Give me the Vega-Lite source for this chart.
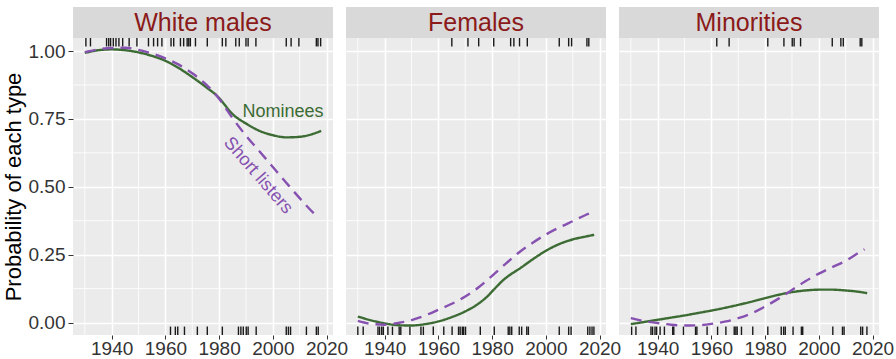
{
  "$schema": "https://vega.github.io/schema/vega-lite/v6.json",
  "padding": {"left": 2, "top": 7, "right": 0, "bottom": 0},
  "bounds": "flush",
  "columns": 3,
  "spacing": {"row": 0, "column": 13},
  "datasets": {
    "curves": [
      {"panel": "White males", "type": "Nominees", "year": 1930, "p": 0.993},
      {"panel": "White males", "type": "Nominees", "year": 1935, "p": 1.003},
      {"panel": "White males", "type": "Nominees", "year": 1940, "p": 1.006},
      {"panel": "White males", "type": "Nominees", "year": 1945, "p": 1.003},
      {"panel": "White males", "type": "Nominees", "year": 1950, "p": 0.995},
      {"panel": "White males", "type": "Nominees", "year": 1955, "p": 0.982},
      {"panel": "White males", "type": "Nominees", "year": 1960, "p": 0.964},
      {"panel": "White males", "type": "Nominees", "year": 1965, "p": 0.937},
      {"panel": "White males", "type": "Nominees", "year": 1970, "p": 0.904},
      {"panel": "White males", "type": "Nominees", "year": 1975, "p": 0.868},
      {"panel": "White males", "type": "Nominees", "year": 1980, "p": 0.827},
      {"panel": "White males", "type": "Nominees", "year": 1982, "p": 0.803},
      {"panel": "White males", "type": "Nominees", "year": 1984, "p": 0.778},
      {"panel": "White males", "type": "Nominees", "year": 1986, "p": 0.759},
      {"panel": "White males", "type": "Nominees", "year": 1988, "p": 0.745},
      {"panel": "White males", "type": "Nominees", "year": 1990, "p": 0.733},
      {"panel": "White males", "type": "Nominees", "year": 1995, "p": 0.706},
      {"panel": "White males", "type": "Nominees", "year": 2000, "p": 0.69},
      {"panel": "White males", "type": "Nominees", "year": 2005, "p": 0.682},
      {"panel": "White males", "type": "Nominees", "year": 2010, "p": 0.684},
      {"panel": "White males", "type": "Nominees", "year": 2015, "p": 0.695},
      {"panel": "White males", "type": "Nominees", "year": 2018, "p": 0.706},
      {"panel": "White males", "type": "Short listers", "year": 1930, "p": 0.996},
      {"panel": "White males", "type": "Short listers", "year": 1935, "p": 1.006},
      {"panel": "White males", "type": "Short listers", "year": 1940, "p": 1.011},
      {"panel": "White males", "type": "Short listers", "year": 1945, "p": 1.012},
      {"panel": "White males", "type": "Short listers", "year": 1950, "p": 1.004},
      {"panel": "White males", "type": "Short listers", "year": 1955, "p": 0.991},
      {"panel": "White males", "type": "Short listers", "year": 1960, "p": 0.973},
      {"panel": "White males", "type": "Short listers", "year": 1965, "p": 0.95},
      {"panel": "White males", "type": "Short listers", "year": 1970, "p": 0.918},
      {"panel": "White males", "type": "Short listers", "year": 1975, "p": 0.878},
      {"panel": "White males", "type": "Short listers", "year": 1980, "p": 0.824},
      {"panel": "White males", "type": "Short listers", "year": 1985, "p": 0.753},
      {"panel": "White males", "type": "Short listers", "year": 1990, "p": 0.688},
      {"panel": "White males", "type": "Short listers", "year": 1995, "p": 0.631},
      {"panel": "White males", "type": "Short listers", "year": 2000, "p": 0.573},
      {"panel": "White males", "type": "Short listers", "year": 2005, "p": 0.515},
      {"panel": "White males", "type": "Short listers", "year": 2010, "p": 0.458},
      {"panel": "White males", "type": "Short listers", "year": 2015, "p": 0.405},
      {"panel": "White males", "type": "Short listers", "year": 2017, "p": 0.388},
      {"panel": "Females", "type": "Nominees", "year": 1930, "p": 0.022},
      {"panel": "Females", "type": "Nominees", "year": 1935, "p": 0.008},
      {"panel": "Females", "type": "Nominees", "year": 1940, "p": -0.003},
      {"panel": "Females", "type": "Nominees", "year": 1945, "p": -0.01},
      {"panel": "Females", "type": "Nominees", "year": 1950, "p": -0.011},
      {"panel": "Females", "type": "Nominees", "year": 1955, "p": -0.006},
      {"panel": "Females", "type": "Nominees", "year": 1960, "p": 0.004},
      {"panel": "Females", "type": "Nominees", "year": 1965, "p": 0.02},
      {"panel": "Females", "type": "Nominees", "year": 1970, "p": 0.041},
      {"panel": "Females", "type": "Nominees", "year": 1975, "p": 0.07},
      {"panel": "Females", "type": "Nominees", "year": 1978, "p": 0.094},
      {"panel": "Females", "type": "Nominees", "year": 1981, "p": 0.125},
      {"panel": "Females", "type": "Nominees", "year": 1984, "p": 0.155},
      {"panel": "Females", "type": "Nominees", "year": 1987, "p": 0.178},
      {"panel": "Females", "type": "Nominees", "year": 1990, "p": 0.197},
      {"panel": "Females", "type": "Nominees", "year": 1995, "p": 0.232},
      {"panel": "Females", "type": "Nominees", "year": 2000, "p": 0.264},
      {"panel": "Females", "type": "Nominees", "year": 2005, "p": 0.289},
      {"panel": "Females", "type": "Nominees", "year": 2010, "p": 0.306},
      {"panel": "Females", "type": "Nominees", "year": 2015, "p": 0.317},
      {"panel": "Females", "type": "Nominees", "year": 2018, "p": 0.323},
      {"panel": "Females", "type": "Short listers", "year": 1930, "p": 0.006},
      {"panel": "Females", "type": "Short listers", "year": 1935, "p": -0.005},
      {"panel": "Females", "type": "Short listers", "year": 1940, "p": -0.008},
      {"panel": "Females", "type": "Short listers", "year": 1945, "p": -0.002},
      {"panel": "Females", "type": "Short listers", "year": 1950, "p": 0.009},
      {"panel": "Females", "type": "Short listers", "year": 1955, "p": 0.026},
      {"panel": "Females", "type": "Short listers", "year": 1960, "p": 0.047},
      {"panel": "Females", "type": "Short listers", "year": 1965, "p": 0.069},
      {"panel": "Females", "type": "Short listers", "year": 1970, "p": 0.096},
      {"panel": "Females", "type": "Short listers", "year": 1975, "p": 0.13},
      {"panel": "Females", "type": "Short listers", "year": 1980, "p": 0.172},
      {"panel": "Females", "type": "Short listers", "year": 1985, "p": 0.216},
      {"panel": "Females", "type": "Short listers", "year": 1990, "p": 0.258},
      {"panel": "Females", "type": "Short listers", "year": 1995, "p": 0.293},
      {"panel": "Females", "type": "Short listers", "year": 2000, "p": 0.324},
      {"panel": "Females", "type": "Short listers", "year": 2005, "p": 0.35},
      {"panel": "Females", "type": "Short listers", "year": 2010, "p": 0.373},
      {"panel": "Females", "type": "Short listers", "year": 2015, "p": 0.397},
      {"panel": "Females", "type": "Short listers", "year": 2017, "p": 0.405},
      {"panel": "Minorities", "type": "Nominees", "year": 1930, "p": -0.006},
      {"panel": "Minorities", "type": "Nominees", "year": 1935, "p": 0.002},
      {"panel": "Minorities", "type": "Nominees", "year": 1940, "p": 0.01},
      {"panel": "Minorities", "type": "Nominees", "year": 1945, "p": 0.018},
      {"panel": "Minorities", "type": "Nominees", "year": 1950, "p": 0.026},
      {"panel": "Minorities", "type": "Nominees", "year": 1955, "p": 0.035},
      {"panel": "Minorities", "type": "Nominees", "year": 1960, "p": 0.044},
      {"panel": "Minorities", "type": "Nominees", "year": 1965, "p": 0.054},
      {"panel": "Minorities", "type": "Nominees", "year": 1970, "p": 0.065},
      {"panel": "Minorities", "type": "Nominees", "year": 1975, "p": 0.077},
      {"panel": "Minorities", "type": "Nominees", "year": 1980, "p": 0.09},
      {"panel": "Minorities", "type": "Nominees", "year": 1985, "p": 0.102},
      {"panel": "Minorities", "type": "Nominees", "year": 1990, "p": 0.112},
      {"panel": "Minorities", "type": "Nominees", "year": 1995, "p": 0.118},
      {"panel": "Minorities", "type": "Nominees", "year": 2000, "p": 0.121},
      {"panel": "Minorities", "type": "Nominees", "year": 2005, "p": 0.121},
      {"panel": "Minorities", "type": "Nominees", "year": 2010, "p": 0.118},
      {"panel": "Minorities", "type": "Nominees", "year": 2015, "p": 0.113},
      {"panel": "Minorities", "type": "Nominees", "year": 2018, "p": 0.108},
      {"panel": "Minorities", "type": "Short listers", "year": 1930, "p": 0.016},
      {"panel": "Minorities", "type": "Short listers", "year": 1935, "p": 0.005},
      {"panel": "Minorities", "type": "Short listers", "year": 1940, "p": -0.002},
      {"panel": "Minorities", "type": "Short listers", "year": 1945, "p": -0.008},
      {"panel": "Minorities", "type": "Short listers", "year": 1950, "p": -0.011},
      {"panel": "Minorities", "type": "Short listers", "year": 1955, "p": -0.01},
      {"panel": "Minorities", "type": "Short listers", "year": 1960, "p": -0.005},
      {"panel": "Minorities", "type": "Short listers", "year": 1965, "p": 0.003},
      {"panel": "Minorities", "type": "Short listers", "year": 1970, "p": 0.016},
      {"panel": "Minorities", "type": "Short listers", "year": 1975, "p": 0.034},
      {"panel": "Minorities", "type": "Short listers", "year": 1980, "p": 0.059},
      {"panel": "Minorities", "type": "Short listers", "year": 1985, "p": 0.088},
      {"panel": "Minorities", "type": "Short listers", "year": 1990, "p": 0.12},
      {"panel": "Minorities", "type": "Short listers", "year": 1995, "p": 0.152},
      {"panel": "Minorities", "type": "Short listers", "year": 2000, "p": 0.18},
      {"panel": "Minorities", "type": "Short listers", "year": 2005, "p": 0.204},
      {"panel": "Minorities", "type": "Short listers", "year": 2010, "p": 0.227},
      {"panel": "Minorities", "type": "Short listers", "year": 2015, "p": 0.258},
      {"panel": "Minorities", "type": "Short listers", "year": 2017, "p": 0.27}
    ],
    "rug": [
      {"panel": "White males", "side": "top", "year": 1930.4},
      {"panel": "White males", "side": "top", "year": 1932.1},
      {"panel": "White males", "side": "top", "year": 1938.1},
      {"panel": "White males", "side": "top", "year": 1938.9},
      {"panel": "White males", "side": "top", "year": 1939.6},
      {"panel": "White males", "side": "top", "year": 1940.6},
      {"panel": "White males", "side": "top", "year": 1941.6},
      {"panel": "White males", "side": "top", "year": 1942.7},
      {"panel": "White males", "side": "top", "year": 1944.1},
      {"panel": "White males", "side": "top", "year": 1946.5},
      {"panel": "White males", "side": "top", "year": 1949.4},
      {"panel": "White males", "side": "top", "year": 1953.7},
      {"panel": "White males", "side": "top", "year": 1955.6},
      {"panel": "White males", "side": "top", "year": 1957.1},
      {"panel": "White males", "side": "top", "year": 1958.7},
      {"panel": "White males", "side": "top", "year": 1962.1},
      {"panel": "White males", "side": "top", "year": 1963.1},
      {"panel": "White males", "side": "top", "year": 1965.6},
      {"panel": "White males", "side": "top", "year": 1966.8},
      {"panel": "White males", "side": "top", "year": 1968.1},
      {"panel": "White males", "side": "top", "year": 1968.7},
      {"panel": "White males", "side": "top", "year": 1969.3},
      {"panel": "White males", "side": "top", "year": 1971.2},
      {"panel": "White males", "side": "top", "year": 1975.6},
      {"panel": "White males", "side": "top", "year": 1981.2},
      {"panel": "White males", "side": "top", "year": 1982.5},
      {"panel": "White males", "side": "top", "year": 1986.2},
      {"panel": "White males", "side": "top", "year": 1987.5},
      {"panel": "White males", "side": "top", "year": 1990.0},
      {"panel": "White males", "side": "top", "year": 1990.8},
      {"panel": "White males", "side": "top", "year": 1993.7},
      {"panel": "White males", "side": "top", "year": 2005.0},
      {"panel": "White males", "side": "top", "year": 2006.8},
      {"panel": "White males", "side": "top", "year": 2009.7},
      {"panel": "White males", "side": "top", "year": 2016.2},
      {"panel": "White males", "side": "top", "year": 2016.8},
      {"panel": "White males", "side": "top", "year": 2017.8},
      {"panel": "White males", "side": "bottom", "year": 1961.9},
      {"panel": "White males", "side": "bottom", "year": 1963.7},
      {"panel": "White males", "side": "bottom", "year": 1964.6},
      {"panel": "White males", "side": "bottom", "year": 1967.1},
      {"panel": "White males", "side": "bottom", "year": 1971.9},
      {"panel": "White males", "side": "bottom", "year": 1975.6},
      {"panel": "White males", "side": "bottom", "year": 1981.2},
      {"panel": "White males", "side": "bottom", "year": 1987.2},
      {"panel": "White males", "side": "bottom", "year": 1988.1},
      {"panel": "White males", "side": "bottom", "year": 1989.0},
      {"panel": "White males", "side": "bottom", "year": 1990.1},
      {"panel": "White males", "side": "bottom", "year": 1990.8},
      {"panel": "White males", "side": "bottom", "year": 1993.8},
      {"panel": "White males", "side": "bottom", "year": 2005.0},
      {"panel": "White males", "side": "bottom", "year": 2005.8},
      {"panel": "White males", "side": "bottom", "year": 2006.6},
      {"panel": "White males", "side": "bottom", "year": 2012.5},
      {"panel": "White males", "side": "bottom", "year": 2016.2},
      {"panel": "White males", "side": "bottom", "year": 2016.9},
      {"panel": "Females", "side": "top", "year": 1965.0},
      {"panel": "Females", "side": "top", "year": 1971.0},
      {"panel": "Females", "side": "top", "year": 1975.0},
      {"panel": "Females", "side": "top", "year": 1980.6},
      {"panel": "Females", "side": "top", "year": 1986.9},
      {"panel": "Females", "side": "top", "year": 1988.1},
      {"panel": "Females", "side": "top", "year": 1990.2},
      {"panel": "Females", "side": "top", "year": 1993.1},
      {"panel": "Females", "side": "top", "year": 2005.0},
      {"panel": "Females", "side": "top", "year": 2008.5},
      {"panel": "Females", "side": "top", "year": 2009.6},
      {"panel": "Females", "side": "top", "year": 2015.3},
      {"panel": "Females", "side": "top", "year": 2016.0},
      {"panel": "Females", "side": "bottom", "year": 1930.0},
      {"panel": "Females", "side": "bottom", "year": 1932.0},
      {"panel": "Females", "side": "bottom", "year": 1937.5},
      {"panel": "Females", "side": "bottom", "year": 1938.1},
      {"panel": "Females", "side": "bottom", "year": 1938.9},
      {"panel": "Females", "side": "bottom", "year": 1939.5},
      {"panel": "Females", "side": "bottom", "year": 1941.2},
      {"panel": "Females", "side": "bottom", "year": 1942.9},
      {"panel": "Females", "side": "bottom", "year": 1945.4},
      {"panel": "Females", "side": "bottom", "year": 1946.0},
      {"panel": "Females", "side": "bottom", "year": 1949.4},
      {"panel": "Females", "side": "bottom", "year": 1953.5},
      {"panel": "Females", "side": "bottom", "year": 1954.4},
      {"panel": "Females", "side": "bottom", "year": 1958.1},
      {"panel": "Females", "side": "bottom", "year": 1962.0},
      {"panel": "Females", "side": "bottom", "year": 1965.1},
      {"panel": "Females", "side": "bottom", "year": 1967.5},
      {"panel": "Females", "side": "bottom", "year": 1968.1},
      {"panel": "Females", "side": "bottom", "year": 1968.9},
      {"panel": "Females", "side": "bottom", "year": 1969.4},
      {"panel": "Females", "side": "bottom", "year": 1970.1},
      {"panel": "Females", "side": "bottom", "year": 1975.6},
      {"panel": "Females", "side": "bottom", "year": 1980.8},
      {"panel": "Females", "side": "bottom", "year": 1986.0},
      {"panel": "Females", "side": "bottom", "year": 1986.6},
      {"panel": "Females", "side": "bottom", "year": 1987.3},
      {"panel": "Females", "side": "bottom", "year": 1990.1},
      {"panel": "Females", "side": "bottom", "year": 1991.0},
      {"panel": "Females", "side": "bottom", "year": 1992.9},
      {"panel": "Females", "side": "bottom", "year": 1993.5},
      {"panel": "Females", "side": "bottom", "year": 2005.0},
      {"panel": "Females", "side": "bottom", "year": 2008.5},
      {"panel": "Females", "side": "bottom", "year": 2009.4},
      {"panel": "Females", "side": "bottom", "year": 2015.6},
      {"panel": "Females", "side": "bottom", "year": 2016.4},
      {"panel": "Females", "side": "bottom", "year": 2017.2},
      {"panel": "Females", "side": "bottom", "year": 2017.9},
      {"panel": "Minorities", "side": "top", "year": 1962.0},
      {"panel": "Minorities", "side": "top", "year": 1966.6},
      {"panel": "Minorities", "side": "top", "year": 1981.0},
      {"panel": "Minorities", "side": "top", "year": 1987.0},
      {"panel": "Minorities", "side": "top", "year": 1990.1},
      {"panel": "Minorities", "side": "top", "year": 1990.8},
      {"panel": "Minorities", "side": "top", "year": 1993.2},
      {"panel": "Minorities", "side": "top", "year": 2005.0},
      {"panel": "Minorities", "side": "top", "year": 2008.2},
      {"panel": "Minorities", "side": "top", "year": 2009.1},
      {"panel": "Minorities", "side": "top", "year": 2015.4},
      {"panel": "Minorities", "side": "top", "year": 2016.0},
      {"panel": "Minorities", "side": "bottom", "year": 1930.3},
      {"panel": "Minorities", "side": "bottom", "year": 1931.9},
      {"panel": "Minorities", "side": "bottom", "year": 1937.5},
      {"panel": "Minorities", "side": "bottom", "year": 1938.1},
      {"panel": "Minorities", "side": "bottom", "year": 1939.0},
      {"panel": "Minorities", "side": "bottom", "year": 1939.6},
      {"panel": "Minorities", "side": "bottom", "year": 1940.9},
      {"panel": "Minorities", "side": "bottom", "year": 1942.5},
      {"panel": "Minorities", "side": "bottom", "year": 1945.6},
      {"panel": "Minorities", "side": "bottom", "year": 1946.0},
      {"panel": "Minorities", "side": "bottom", "year": 1949.6},
      {"panel": "Minorities", "side": "bottom", "year": 1954.1},
      {"panel": "Minorities", "side": "bottom", "year": 1954.6},
      {"panel": "Minorities", "side": "bottom", "year": 1958.4},
      {"panel": "Minorities", "side": "bottom", "year": 1962.3},
      {"panel": "Minorities", "side": "bottom", "year": 1965.4},
      {"panel": "Minorities", "side": "bottom", "year": 1968.5},
      {"panel": "Minorities", "side": "bottom", "year": 1969.1},
      {"panel": "Minorities", "side": "bottom", "year": 1969.6},
      {"panel": "Minorities", "side": "bottom", "year": 1971.2},
      {"panel": "Minorities", "side": "bottom", "year": 1975.4},
      {"panel": "Minorities", "side": "bottom", "year": 1981.0},
      {"panel": "Minorities", "side": "bottom", "year": 1986.0},
      {"panel": "Minorities", "side": "bottom", "year": 1986.9},
      {"panel": "Minorities", "side": "bottom", "year": 1987.5},
      {"panel": "Minorities", "side": "bottom", "year": 1990.4},
      {"panel": "Minorities", "side": "bottom", "year": 1993.5},
      {"panel": "Minorities", "side": "bottom", "year": 1994.0},
      {"panel": "Minorities", "side": "bottom", "year": 2005.2},
      {"panel": "Minorities", "side": "bottom", "year": 2008.8},
      {"panel": "Minorities", "side": "bottom", "year": 2009.4},
      {"panel": "Minorities", "side": "bottom", "year": 2015.6},
      {"panel": "Minorities", "side": "bottom", "year": 2016.3},
      {"panel": "Minorities", "side": "bottom", "year": 2017.9}
    ],
    "minorX": [{"v": 1930}, {"v": 1950}, {"v": 1970}, {"v": 1990}, {"v": 2010}],
    "minorY": [{"h": 0.125}, {"h": 0.375}, {"h": 0.625}, {"h": 0.875}],
    "labels": [{"label": "Nominees"}, {"label": "Short listers"}]
  },
  "concat": [
    {
      "width": 260, "height": 31,
      "view": {"fill": "#d9d9d9", "stroke": null},
      "data": {"values": [{"label": "White males"}]},
      "mark": {"type": "text", "fontSize": 25, "color": "#8b1a1a", "baseline": "middle", "align": "center"},
      "encoding": {"text": {"field": "label"}}
    },
    {
      "width": 260, "height": 31,
      "view": {"fill": "#d9d9d9", "stroke": null},
      "data": {"values": [{"label": "Females"}]},
      "mark": {"type": "text", "fontSize": 25, "color": "#8b1a1a", "baseline": "middle", "align": "center"},
      "encoding": {"text": {"field": "label"}}
    },
    {
      "width": 260, "height": 31,
      "view": {"fill": "#d9d9d9", "stroke": null},
      "data": {"values": [{"label": "Minorities"}]},
      "mark": {"type": "text", "fontSize": 25, "color": "#8b1a1a", "baseline": "middle", "align": "center"},
      "encoding": {"text": {"field": "label"}}
    },
    {
      "width": 260, "height": 297,
      "view": {"fill": "#ebebeb", "stroke": null},
      "layer": [
        {
          "data": {"name": "minorX"},
          "mark": {"type": "rule", "color": "#ffffff", "strokeWidth": 0.8},
          "encoding": {"x": {"field": "v", "type": "quantitative", "title": null,
            "scale": {"domain": [1925.6, 2022.4], "nice": false, "zero": false},
            "axis": {"values": [1940, 1960, 1980, 2000, 2020], "format": "d", "title": null, "grid": true, "labelFlush": false, "labelOverlap": false}}}
        },
        {
          "data": {"name": "minorY"},
          "mark": {"type": "rule", "color": "#ffffff", "strokeWidth": 0.8},
          "encoding": {"y": {"field": "h", "type": "quantitative", "title": "Probability of each type",
            "scale": {"domain": [-0.046, 1.048], "nice": false, "zero": false},
            "axis": {"values": [0, 0.25, 0.5, 0.75, 1], "format": ".2f", "title": "Probability of each type", "grid": true}}}
        },
        {
          "data": {"name": "rug"},
          "transform": [{"filter": "datum.panel === 'White males' && datum.side === 'top'"}],
          "mark": {"type": "rule", "color": "#1a1a1a", "strokeWidth": 1.4},
          "encoding": {"x": {"field": "year", "type": "quantitative", "title": null}, "y": {"datum": 1.048}, "y2": {"datum": 1.017}}
        },
        {
          "data": {"name": "rug"},
          "transform": [{"filter": "datum.panel === 'White males' && datum.side === 'bottom'"}],
          "mark": {"type": "rule", "color": "#1a1a1a", "strokeWidth": 1.4},
          "encoding": {"x": {"field": "year", "type": "quantitative", "title": null}, "y": {"datum": -0.046}, "y2": {"datum": -0.015}}
        },
        {
          "data": {"name": "curves"},
          "transform": [{"filter": "datum.panel === 'White males'"}],
          "mark": {"type": "line", "interpolate": "monotone", "strokeWidth": 2.4},
          "encoding": {
            "x": {"field": "year", "type": "quantitative", "title": null},
            "y": {"field": "p", "type": "quantitative", "title": "Probability of each type"},
            "color": {"field": "type", "type": "nominal", "legend": null, "scale": {"domain": ["Nominees", "Short listers"], "range": ["#3c6b34", "#8651b0"]}},
            "strokeDash": {"field": "type", "type": "nominal", "legend": null, "scale": {"domain": ["Nominees", "Short listers"], "range": [[1, 0], [11, 7]]}}
          }
        },
        {
          "data": {"name": "labels"},
          "transform": [{"filter": "datum.label === 'Nominees'"}],
          "mark": {"type": "text", "fontSize": 18, "color": "#3c6b34", "align": "center", "baseline": "middle"},
          "encoding": {"x": {"datum": 2003.8}, "y": {"datum": 0.777}, "text": {"field": "label"}}
        },
        {
          "data": {"name": "labels"},
          "transform": [{"filter": "datum.label === 'Short listers'"}],
          "mark": {"type": "text", "fontSize": 18, "color": "#8651b0", "align": "center", "baseline": "middle", "angle": 49},
          "encoding": {"x": {"datum": 1994.5}, "y": {"datum": 0.541}, "text": {"field": "label"}}
        }
      ]
    },
    {
      "width": 260, "height": 297,
      "view": {"fill": "#ebebeb", "stroke": null},
      "layer": [
        {
          "data": {"name": "minorX"},
          "mark": {"type": "rule", "color": "#ffffff", "strokeWidth": 0.8},
          "encoding": {"x": {"field": "v", "type": "quantitative", "title": null,
            "scale": {"domain": [1925.6, 2022.4], "nice": false, "zero": false},
            "axis": {"values": [1940, 1960, 1980, 2000, 2020], "format": "d", "title": null, "grid": true, "labelFlush": false, "labelOverlap": false}}}
        },
        {
          "data": {"name": "minorY"},
          "mark": {"type": "rule", "color": "#ffffff", "strokeWidth": 0.8},
          "encoding": {"y": {"field": "h", "type": "quantitative", "title": null,
            "scale": {"domain": [-0.046, 1.048], "nice": false, "zero": false},
            "axis": {"values": [0, 0.25, 0.5, 0.75, 1], "labels": false, "ticks": false, "title": null, "grid": true}}}
        },
        {
          "data": {"name": "rug"},
          "transform": [{"filter": "datum.panel === 'Females' && datum.side === 'top'"}],
          "mark": {"type": "rule", "color": "#1a1a1a", "strokeWidth": 1.4},
          "encoding": {"x": {"field": "year", "type": "quantitative", "title": null}, "y": {"datum": 1.048}, "y2": {"datum": 1.017}}
        },
        {
          "data": {"name": "rug"},
          "transform": [{"filter": "datum.panel === 'Females' && datum.side === 'bottom'"}],
          "mark": {"type": "rule", "color": "#1a1a1a", "strokeWidth": 1.4},
          "encoding": {"x": {"field": "year", "type": "quantitative", "title": null}, "y": {"datum": -0.046}, "y2": {"datum": -0.015}}
        },
        {
          "data": {"name": "curves"},
          "transform": [{"filter": "datum.panel === 'Females'"}],
          "mark": {"type": "line", "interpolate": "monotone", "strokeWidth": 2.4},
          "encoding": {
            "x": {"field": "year", "type": "quantitative", "title": null},
            "y": {"field": "p", "type": "quantitative", "title": null},
            "color": {"field": "type", "type": "nominal", "legend": null, "scale": {"domain": ["Nominees", "Short listers"], "range": ["#3c6b34", "#8651b0"]}},
            "strokeDash": {"field": "type", "type": "nominal", "legend": null, "scale": {"domain": ["Nominees", "Short listers"], "range": [[1, 0], [11, 7]]}}
          }
        }
      ]
    },
    {
      "width": 260, "height": 297,
      "view": {"fill": "#ebebeb", "stroke": null},
      "layer": [
        {
          "data": {"name": "minorX"},
          "mark": {"type": "rule", "color": "#ffffff", "strokeWidth": 0.8},
          "encoding": {"x": {"field": "v", "type": "quantitative", "title": null,
            "scale": {"domain": [1925.6, 2022.4], "nice": false, "zero": false},
            "axis": {"values": [1940, 1960, 1980, 2000, 2020], "format": "d", "title": null, "grid": true, "labelFlush": false, "labelOverlap": false}}}
        },
        {
          "data": {"name": "minorY"},
          "mark": {"type": "rule", "color": "#ffffff", "strokeWidth": 0.8},
          "encoding": {"y": {"field": "h", "type": "quantitative", "title": null,
            "scale": {"domain": [-0.046, 1.048], "nice": false, "zero": false},
            "axis": {"values": [0, 0.25, 0.5, 0.75, 1], "labels": false, "ticks": false, "title": null, "grid": true}}}
        },
        {
          "data": {"name": "rug"},
          "transform": [{"filter": "datum.panel === 'Minorities' && datum.side === 'top'"}],
          "mark": {"type": "rule", "color": "#1a1a1a", "strokeWidth": 1.4},
          "encoding": {"x": {"field": "year", "type": "quantitative", "title": null}, "y": {"datum": 1.048}, "y2": {"datum": 1.017}}
        },
        {
          "data": {"name": "rug"},
          "transform": [{"filter": "datum.panel === 'Minorities' && datum.side === 'bottom'"}],
          "mark": {"type": "rule", "color": "#1a1a1a", "strokeWidth": 1.4},
          "encoding": {"x": {"field": "year", "type": "quantitative", "title": null}, "y": {"datum": -0.046}, "y2": {"datum": -0.015}}
        },
        {
          "data": {"name": "curves"},
          "transform": [{"filter": "datum.panel === 'Minorities'"}],
          "mark": {"type": "line", "interpolate": "monotone", "strokeWidth": 2.4},
          "encoding": {
            "x": {"field": "year", "type": "quantitative", "title": null},
            "y": {"field": "p", "type": "quantitative", "title": null},
            "color": {"field": "type", "type": "nominal", "legend": null, "scale": {"domain": ["Nominees", "Short listers"], "range": ["#3c6b34", "#8651b0"]}},
            "strokeDash": {"field": "type", "type": "nominal", "legend": null, "scale": {"domain": ["Nominees", "Short listers"], "range": [[1, 0], [11, 7]]}}
          }
        }
      ]
    }
  ],
  "config": {
    "font": "Liberation Sans",
    "view": {"stroke": null},
    "axis": {
      "labelFontSize": 19,
      "labelColor": "#333333",
      "labelFont": "Liberation Sans",
      "tickColor": "#333333",
      "domain": false,
      "gridColor": "#ffffff",
      "gridWidth": 1.6,
      "titleFontSize": 22,
      "titleFontWeight": "normal",
      "titleColor": "#000000",
      "titlePadding": 3,
      "titleFont": "Liberation Sans"
    },
    "axisX": {"labelPadding": 0, "tickSize": 4},
    "axisY": {"labelPadding": 3, "tickSize": 5}
  }
}
